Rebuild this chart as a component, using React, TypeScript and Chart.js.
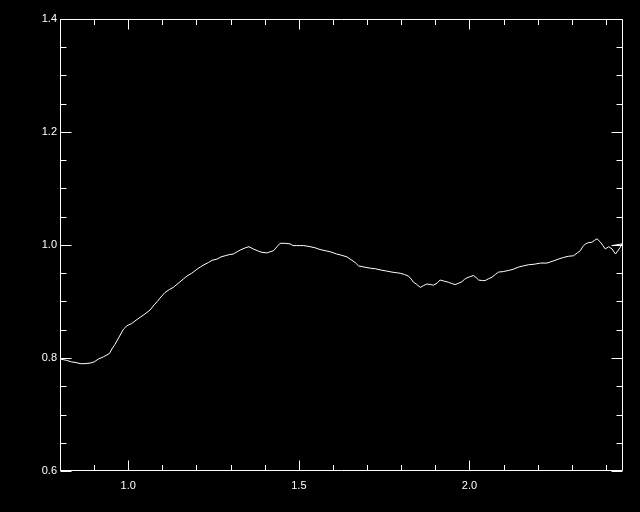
import React, { useEffect, useRef } from "react";
import { Chart, registerables } from "chart.js";

Chart.register(...registerables);

const xValues: number[] = [
  0.802, 0.818, 0.834, 0.847, 0.859, 0.873, 0.888, 0.9, 0.912, 0.927,
  0.945, 0.952, 0.961, 0.973, 0.986, 0.996, 1.01, 1.023, 1.035, 1.049,
  1.064, 1.076, 1.085, 1.096, 1.108, 1.12, 1.132, 1.146, 1.162, 1.172,
  1.186, 1.199, 1.211, 1.222, 1.235, 1.246, 1.26, 1.272, 1.284, 1.296,
  1.308, 1.319, 1.328, 1.343, 1.354, 1.366, 1.382, 1.392, 1.406, 1.416,
  1.426, 1.436, 1.445, 1.46, 1.474, 1.483, 1.494, 1.504, 1.513, 1.524,
  1.533, 1.548, 1.562, 1.577, 1.592, 1.611, 1.624, 1.641, 1.653, 1.665,
  1.675, 1.691, 1.709, 1.724, 1.738, 1.756, 1.773, 1.785, 1.797, 1.809,
  1.821, 1.829, 1.836, 1.844, 1.856, 1.865, 1.875, 1.885, 1.895, 1.906,
  1.914, 1.926, 1.939, 1.947, 1.958, 1.967, 1.978, 1.985, 1.993, 2.002,
  2.012, 2.02, 2.027, 2.038, 2.046, 2.055, 2.066, 2.076, 2.085, 2.099,
  2.115, 2.128, 2.144, 2.158, 2.173, 2.19, 2.208, 2.227, 2.237, 2.247,
  2.26, 2.276, 2.29, 2.305, 2.316, 2.325, 2.332, 2.34, 2.348, 2.359,
  2.366, 2.374, 2.384, 2.391, 2.398, 2.408, 2.418, 2.428, 2.442, 2.447,
  2.419,
];

const yValues: number[] = [
  0.798, 0.796, 0.793, 0.792, 0.79, 0.79, 0.791, 0.793, 0.798, 0.802,
  0.808, 0.816, 0.824, 0.837, 0.851, 0.857, 0.861, 0.867, 0.872, 0.878,
  0.885, 0.894, 0.9, 0.908, 0.916, 0.921, 0.925, 0.932, 0.94, 0.945,
  0.95, 0.956, 0.961, 0.965, 0.969, 0.973, 0.975, 0.979, 0.981, 0.983,
  0.984, 0.988, 0.991, 0.995, 0.997, 0.993, 0.989, 0.987, 0.986, 0.988,
  0.99, 0.997, 1.003, 1.003, 1.002, 0.999, 0.999, 0.999, 0.999, 0.998,
  0.997, 0.995, 0.992, 0.99, 0.988, 0.984, 0.982, 0.979, 0.974, 0.969,
  0.963, 0.961, 0.959, 0.958, 0.956, 0.954, 0.952, 0.951, 0.95, 0.948,
  0.945, 0.94, 0.934, 0.931, 0.925, 0.928, 0.931, 0.93, 0.929, 0.933,
  0.938, 0.936, 0.934, 0.932, 0.93, 0.932, 0.935, 0.939, 0.942, 0.944,
  0.946, 0.942, 0.938, 0.937, 0.937, 0.94, 0.943, 0.948, 0.952, 0.953,
  0.955, 0.957, 0.961, 0.963, 0.965, 0.966, 0.968, 0.968, 0.97, 0.972,
  0.975, 0.978, 0.98, 0.981, 0.986, 0.99, 0.997, 1.002, 1.004, 1.005,
  1.008, 1.011, 1.005, 0.999, 0.993, 0.997, 0.993, 0.984, 0.996, 1.002,
  0.999,
];

const xMajorTicks: number[] = [1.0, 1.5, 2.0];
const yMajorTicks: number[] = [0.6, 0.8, 1.0, 1.2, 1.4];
const xMinorStep = 0.1;
const yMinorStep = 0.05;
const xMin = 0.8;
const xMax = 2.45;
const yMin = 0.6;
const yMax = 1.4;

const idlAxesPlugin = {
  id: "idlAxes",
  beforeDraw(chart: any) {
    const ctx = chart.ctx;
    ctx.save();
    ctx.fillStyle = "#000000";
    ctx.fillRect(0, 0, chart.width, chart.height);
    ctx.restore();
  },
  afterDraw(chart: any) {
    const { ctx, chartArea } = chart;
    const xs = chart.scales.x;
    const ys = chart.scales.y;
    const L = chartArea.left + 0.5;
    const R = chartArea.right - 0.5;
    const T = chartArea.top + 0.5;
    const B = chartArea.bottom - 0.5;
    ctx.save();
    ctx.strokeStyle = "#ffffff";
    ctx.lineWidth = 1;
    ctx.beginPath();
    ctx.rect(L, T, R - L, B - T);
    ctx.stroke();

    const isMajor = (v: number, arr: number[]) => arr.some((m) => Math.abs(m - v) < 1e-6);

    ctx.beginPath();
    for (let i = 0; ; i++) {
      const v = xMin + i * xMinorStep;
      if (v > xMax + 1e-9) break;
      const px = Math.round(xs.getPixelForValue(v)) + 0.5;
      const len = isMajor(v, xMajorTicks) ? 10 : 5.5;
      ctx.moveTo(px, B);
      ctx.lineTo(px, B - len);
      ctx.moveTo(px, T);
      ctx.lineTo(px, T + len);
    }
    for (let i = 0; ; i++) {
      const v = yMin + i * yMinorStep;
      if (v > yMax + 1e-9) break;
      const py = Math.round(ys.getPixelForValue(v)) + 0.5;
      const len = isMajor(v, yMajorTicks) ? 11 : 6;
      ctx.moveTo(L, py);
      ctx.lineTo(L + len, py);
      ctx.moveTo(R, py);
      ctx.lineTo(R - len, py);
    }
    ctx.stroke();
    ctx.restore();
  },
};

export default function App() {
  const canvasRef = useRef<HTMLCanvasElement | null>(null);

  useEffect(() => {
    document.body.style.margin = "0";
    document.body.style.background = "#000000";
    const canvas = canvasRef.current;
    if (!canvas) return;
    const points = xValues.map((x, i) => ({ x, y: yValues[i] }));
    const chart = new Chart(canvas, {
      type: "line",
      data: {
        datasets: [
          {
            data: points,
            borderColor: "#ffffff",
            borderWidth: 1,
            pointRadius: 0,
            tension: 0,
            fill: false,
          },
        ],
      },
      options: {
        animation: false,
        responsive: false,
        devicePixelRatio: 1,
        layout: { padding: { top: 19, right: 17, left: 0, bottom: 0 } },
        plugins: {
          legend: { display: false },
          tooltip: { enabled: false },
        },
        scales: {
          x: {
            type: "linear",
            min: xMin,
            max: xMax,
            grid: { display: false, drawTicks: false },
            border: { display: false },
            afterBuildTicks: (scale: any) => {
              scale.ticks = xMajorTicks.map((v) => ({ value: v }));
            },
            afterFit: (scale: any) => {
              scale.height = 41;
            },
            ticks: {
              color: "#ffffff",
              padding: 8,
              maxRotation: 0,
              autoSkip: false,
              font: { family: "'Liberation Sans', Arial, sans-serif", size: 11 },
              callback: (v: any) => Number(v).toFixed(1),
            },
          },
          y: {
            type: "linear",
            min: yMin,
            max: yMax,
            grid: { display: false, drawTicks: false },
            border: { display: false },
            afterBuildTicks: (scale: any) => {
              scale.ticks = yMajorTicks.map((v) => ({ value: v }));
            },
            afterFit: (scale: any) => {
              scale.width = 60;
            },
            ticks: {
              color: "#ffffff",
              padding: 3,
              autoSkip: false,
              font: { family: "'Liberation Sans', Arial, sans-serif", size: 11 },
              callback: (v: any) => Number(v).toFixed(1),
            },
          },
        },
      },
      plugins: [idlAxesPlugin],
    });
    return () => chart.destroy();
  }, []);

  return (
    <div style={{ width: 640, height: 512, background: "#000000" }}>
      <canvas ref={canvasRef} width={640} height={512} style={{ display: "block", width: 640, height: 512 }} />
    </div>
  );
}
